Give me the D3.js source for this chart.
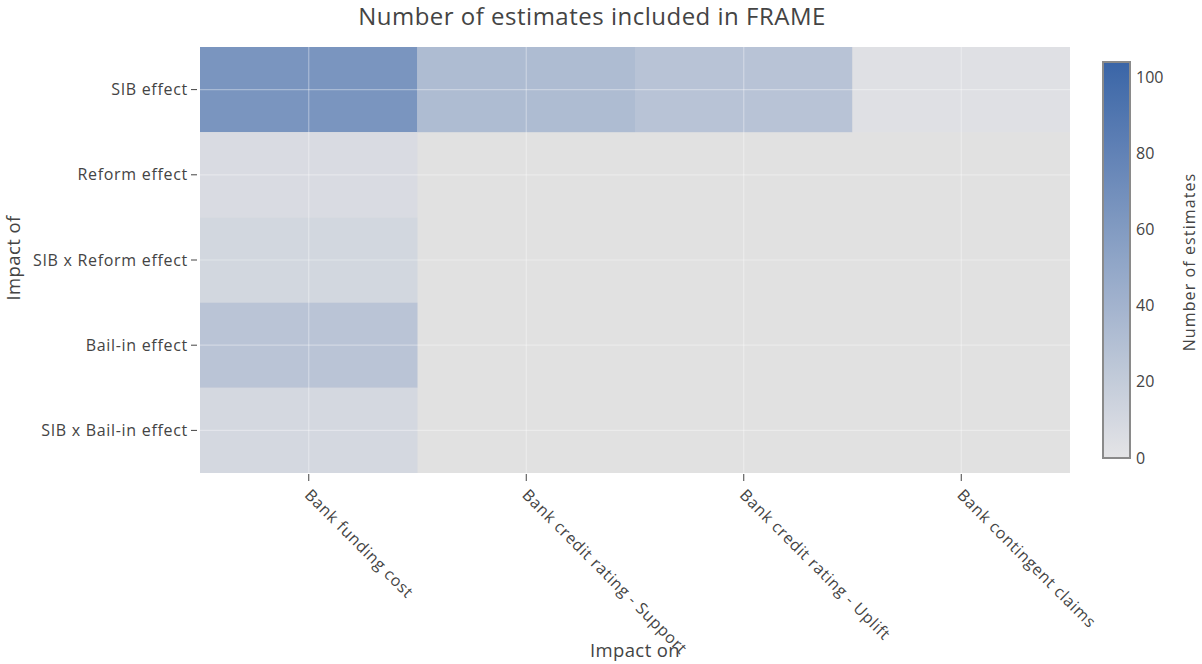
<!DOCTYPE html>
<html>
<head>
<meta charset="utf-8">
<script src="https://cdn.jsdelivr.net/npm/d3@7"></script>
<style>
  html, body { margin: 0; padding: 0; background: #fff; }
  svg { display: block; font-family: "Open Sans", "Noto Sans", sans-serif; }
</style>
</head>
<body>
<svg id="chart" width="1202" height="664"></svg>
<script>
// ---- data ----
const impactOn = ["Bank funding cost", "Bank credit rating - Support", "Bank credit rating - Uplift", "Bank contingent claims"];
const impactOf = ["SIB effect", "Reform effect", "SIB x Reform effect", "Bail-in effect", "SIB x Bail-in effect"];
// rows follow impactOf, columns follow impactOn (null = no estimates cell)
const sibEffect        = [65, 33, 27, 3];
const reformEffect     = [7, null, null, null];
const sibReformEffect  = [11, null, null, null];
const bailInEffect     = [26, null, null, null];
const sibBailInEffect  = [10, null, null, null];
const colorbarTicks = [0, 20, 40, 60, 80, 100];
const colorDomain = [0, 104];

const rows = [sibEffect, reformEffect, sibReformEffect, bailInEffect, sibBailInEffect];
const cells = [];
rows.forEach((r, i) => r.forEach((v, j) => {
  if (v !== null) cells.push({ of: impactOf[i], on: impactOn[j], value: v });
}));

// ---- layout ----
const svg = d3.select("#chart");
const plot = { left: 200, right: 1070, top: 47, bottom: 473 };
const textColor = "#444";
const tickFont = 16, tickLS = 0.7;

const x = d3.scaleBand().domain(impactOn).range([plot.left, plot.right]).padding(0);
const y = d3.scaleBand().domain(impactOf).range([plot.top, plot.bottom]).padding(0);
const color = d3.scaleLinear().domain(colorDomain).range(["#e4e4e6", "#3a65a7"]).interpolate(d3.interpolateRgb);

// background
svg.append("rect")
  .attr("x", plot.left).attr("y", plot.top)
  .attr("width", plot.right - plot.left).attr("height", plot.bottom - plot.top)
  .attr("fill", "#e1e1e1");

// cells
svg.append("g").selectAll("rect").data(cells).join("rect")
  .attr("x", d => x(d.on)).attr("y", d => y(d.of))
  .attr("width", x.bandwidth()).attr("height", y.bandwidth())
  .attr("fill", d => color(d.value));

// gridlines (faint, over cells)
const grid = svg.append("g").attr("stroke", "#ffffff").attr("stroke-width", 1.2);
impactOn.forEach(c => {
  const cx = x(c) + x.bandwidth() / 2;
  grid.append("line").attr("x1", cx).attr("x2", cx).attr("y1", plot.top).attr("y2", plot.bottom)
    .attr("stroke-opacity", 0.35);
});
impactOf.forEach(r => {
  const cy = y(r) + y.bandwidth() / 2;
  grid.append("line").attr("x1", plot.left).attr("x2", plot.right).attr("y1", cy).attr("y2", cy)
    .attr("stroke-opacity", 0.35);
});

// y axis ticks & labels
const yAxis = svg.append("g");
impactOf.forEach(r => {
  const cy = y(r) + y.bandwidth() / 2;
  yAxis.append("line").attr("x1", 191).attr("x2", 197).attr("y1", cy).attr("y2", cy)
    .attr("stroke", "#444").attr("stroke-width", 1);
  yAxis.append("text").attr("x", 188).attr("y", cy).attr("dy", "0.35em")
    .attr("text-anchor", "end").attr("font-size", tickFont).attr("letter-spacing", tickLS)
    .attr("fill", textColor).text(r);
});

// x axis ticks & labels
const xAxis = svg.append("g");
impactOn.forEach(c => {
  const cx = x(c) + x.bandwidth() / 2;
  xAxis.append("line").attr("x1", cx).attr("x2", cx).attr("y1", plot.bottom + 1).attr("y2", plot.bottom + 8)
    .attr("stroke", "#444").attr("stroke-width", 1);
  xAxis.append("text")
    .attr("transform", `translate(${cx - 1},${plot.bottom + 19}) rotate(45)`)
    .attr("dy", "0.35em").attr("text-anchor", "start")
    .attr("font-size", tickFont).attr("letter-spacing", tickLS).attr("fill", textColor).text(c);
});

// axis titles
svg.append("text").attr("x", (plot.left + plot.right) / 2).attr("y", 651).attr("dy", "0.35em")
  .attr("text-anchor", "middle").attr("font-size", 18.5).attr("letter-spacing", 0.4)
  .attr("fill", textColor).text("Impact on");
svg.append("text").attr("transform", "translate(14,258) rotate(-90)").attr("dy", "0.35em")
  .attr("text-anchor", "middle").attr("font-size", 18.5).attr("letter-spacing", 0.4)
  .attr("fill", textColor).text("Impact of");

// title
svg.append("text").attr("x", 592).attr("y", 17).attr("dy", "0.35em")
  .attr("text-anchor", "middle").attr("font-size", 24).attr("letter-spacing", 0.5)
  .attr("fill", textColor).text("Number of estimates included in FRAME");

// colorbar
const cb = { x: 1103, w: 27, top: 62, bottom: 458 };
const cbScale = d3.scaleLinear().domain(colorDomain).range([cb.bottom, cb.top]);
const defs = svg.append("defs");
const grad = defs.append("linearGradient").attr("id", "cbgrad")
  .attr("x1", 0).attr("x2", 0).attr("y1", 1).attr("y2", 0);
d3.range(0, 1.0001, 0.1).forEach(t => {
  grad.append("stop").attr("offset", t)
    .attr("stop-color", color(colorDomain[0] + t * (colorDomain[1] - colorDomain[0])));
});
svg.append("rect").attr("x", cb.x).attr("y", cb.top).attr("width", cb.w).attr("height", cb.bottom - cb.top)
  .attr("fill", "url(#cbgrad)").attr("stroke", "#8a8a8a").attr("stroke-width", 2);
colorbarTicks.forEach(t => {
  svg.append("text").attr("x", cb.x + cb.w + 6).attr("y", cbScale(t)).attr("dy", "0.35em")
    .attr("font-size", 16).attr("fill", textColor).text(t);
});
svg.append("text").attr("transform", "translate(1189,262) rotate(-90)").attr("dy", "0.35em")
  .attr("text-anchor", "middle").attr("font-size", 16).attr("letter-spacing", 1.1)
  .attr("fill", textColor).text("Number of estimates");
</script>
</body>
</html>
